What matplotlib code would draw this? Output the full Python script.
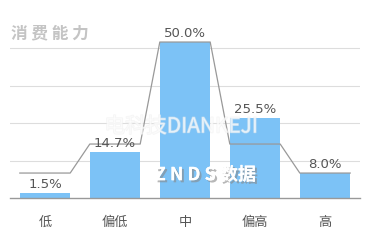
import matplotlib

matplotlib.use("Agg")
import matplotlib.pyplot as plt
import matplotlib.patheffects as pe

plt.rcParams["font.family"] = ["Noto Sans CJK SC", "DejaVu Sans"]

categories = ["低", "偏低", "中", "偏高", "高"]
shares = [1.5, 14.7, 50.0, 25.5, 8.0]
share_labels = ["1.5%", "14.7%", "50.0%", "25.5%", "8.0%"]
trend_values = [8.0, 17.3, 50.0, 17.3, 8.0]
grid_ticks = [12, 24, 36, 48]

bar_color = "#7cc2f6"
bar_width = 0.72

fig = plt.figure(figsize=(3.7, 2.41), dpi=100)
ax = fig.add_axes([0.027, 0.1784, 0.946, 0.7249])

x = list(range(len(categories)))
ax.bar(x, shares, width=bar_width, color=bar_color, zorder=2)

# step-like trend line: flat over each bar, sloped across the gaps
line_x, line_y = [], []
for i, v in zip(x, trend_values):
    line_x += [i - bar_width / 2, i + bar_width / 2]
    line_y += [v, v]
ax.plot(line_x, line_y, color="#999999", linewidth=0.9, zorder=3)

for i, v, lab in zip(x, shares, share_labels):
    ax.text(i, v + 0.8, lab, ha="center", va="bottom", fontsize=9.5,
            color="#555555", family=["DejaVu Sans"], zorder=4)

ax.set_xlim(-0.5, len(categories) - 0.5)
ax.set_ylim(0, 56)
ax.set_yticks(grid_ticks)
ax.set_yticklabels([])
ax.tick_params(axis="y", length=0)
ax.tick_params(axis="x", length=0, pad=13, labelsize=9.5, labelcolor="#555555")
ax.set_xticks(x)
ax.set_xticklabels(categories)
ax.grid(axis="y", color="#dddddd", linewidth=0.8, zorder=0)
ax.set_axisbelow(True)
for side in ("left", "right", "top"):
    ax.spines[side].set_visible(False)
ax.spines["bottom"].set_color("#999999")
ax.spines["bottom"].set_linewidth(1.0)

fig.text(0.03, 0.863, "消 费 能 力", fontsize=12, fontweight="bold",
         color="#c4c4c4", ha="left", va="center")

# watermarks
fig.text(0.49, 0.475, "电科技DIANKEJI", fontsize=15, color="white", alpha=0.5,
         ha="center", va="center", zorder=5,
         path_effects=[pe.withStroke(linewidth=1.0, foreground="#ececec")])
fig.text(0.555, 0.275, "Z N D S 数据", fontsize=13, fontweight="bold",
         fontstyle="italic", color="white", ha="center", va="center", zorder=6,
         path_effects=[pe.withSimplePatchShadow(offset=(1.5, -1.5),
                                                shadow_rgbFace="#888888",
                                                alpha=0.6),
                       pe.Normal()])

fig.savefig("out.png", dpi=100)
plt.close(fig)
